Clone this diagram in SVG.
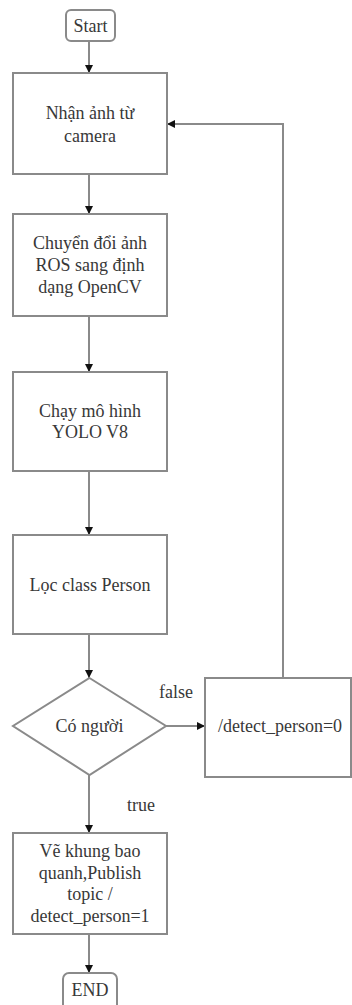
<svg xmlns="http://www.w3.org/2000/svg" width="352" height="1005" viewBox="0 0 352 1005">
  <style>
    .shape { fill: #ffffff; stroke: #8a8a8a; stroke-width: 2; }
    .label { font-family: "Liberation Serif", "Times New Roman", serif; font-size: 18px; fill: #383838; text-anchor: middle; dominant-baseline: central; }
    .edge { fill: none; stroke: #8a8a8a; stroke-width: 2; }
  </style>
  <defs>
    <marker id="arrow" viewBox="0 0 10 10" refX="10" refY="5" markerWidth="8" markerHeight="8" orient="auto" markerUnits="userSpaceOnUse">
      <path d="M0,0 L10,5 L0,10 Z" fill="#111111"/>
    </marker>
  </defs>
  <rect width="352" height="1005" fill="#ffffff"/>

  <g id="connectors">
    <line class="edge" x1="89" y1="41" x2="89" y2="73" marker-end="url(#arrow)"/>
    <line class="edge" x1="89" y1="174" x2="89" y2="214" marker-end="url(#arrow)"/>
    <line class="edge" x1="89" y1="316" x2="89" y2="372" marker-end="url(#arrow)"/>
    <line class="edge" x1="89" y1="471" x2="89" y2="535" marker-end="url(#arrow)"/>
    <line class="edge" x1="89" y1="634" x2="89" y2="678" marker-end="url(#arrow)"/>
    <line class="edge" x1="166" y1="726" x2="205" y2="726" marker-end="url(#arrow)"/>
    <line class="edge" x1="89" y1="775" x2="89" y2="833" marker-end="url(#arrow)"/>
    <line class="edge" x1="89" y1="934" x2="89" y2="973" marker-end="url(#arrow)"/>
    <polyline class="edge" points="283,678 283,124 167,124" marker-end="url(#arrow)"/>
    <text class="label" x="176" y="692">false</text>
    <text class="label" x="141" y="805">true</text>
  </g>

  <g id="start">
    <rect class="shape" x="66" y="10" width="49" height="31" rx="5"/>
    <text class="label" x="90.5" y="25.5">Start</text>
  </g>

  <g id="receive-image">
    <rect class="shape" x="13" y="73" width="154" height="101"/>
    <text class="label" x="90" y="113">Nhận ảnh từ</text>
    <text class="label" x="90" y="136">camera</text>
  </g>

  <g id="convert-opencv">
    <rect class="shape" x="13" y="214" width="154" height="102"/>
    <text class="label" x="90" y="243">Chuyển đổi ảnh</text>
    <text class="label" x="90" y="265">ROS sang định</text>
    <text class="label" x="90" y="287">dạng OpenCV</text>
  </g>

  <g id="run-yolo">
    <rect class="shape" x="13" y="372" width="154" height="99"/>
    <text class="label" x="90" y="411">Chạy mô hình</text>
    <text class="label" x="90" y="432">YOLO V8</text>
  </g>

  <g id="filter-person">
    <rect class="shape" x="13" y="535" width="154" height="99"/>
    <text class="label" x="90" y="585">Lọc class Person</text>
  </g>

  <g id="has-person">
    <polygon class="shape" points="89.5,678 166,726 89.5,775 13,726"/>
    <text class="label" x="89.5" y="726">Có người</text>
  </g>

  <g id="publish-zero">
    <rect class="shape" x="205" y="678" width="146" height="99"/>
    <text class="label" x="280" y="726">/detect_person=0</text>
  </g>

  <g id="draw-publish">
    <rect class="shape" x="13" y="833" width="154" height="101"/>
    <text class="label" x="90" y="851">Vẽ khung bao</text>
    <text class="label" x="90" y="873">quanh,Publish</text>
    <text class="label" x="90" y="894">topic /</text>
    <text class="label" x="90" y="916">detect_person=1</text>
  </g>

  <g id="end">
    <rect class="shape" x="63" y="973" width="54" height="40" rx="6"/>
    <text class="label" x="90" y="990">END</text>
  </g>
</svg>
